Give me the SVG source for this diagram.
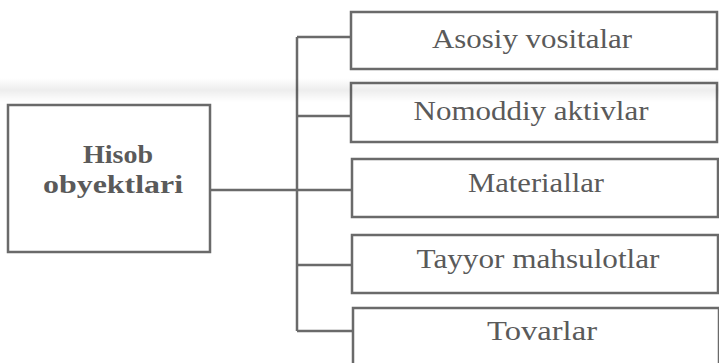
<svg xmlns="http://www.w3.org/2000/svg" width="719" height="363" viewBox="0 0 719 363">
  <defs>
    <linearGradient id="band" x1="0" y1="0" x2="0" y2="1">
      <stop offset="0" stop-color="#000" stop-opacity="0"/>
      <stop offset="0.5" stop-color="#000" stop-opacity="0.07"/>
      <stop offset="1" stop-color="#000" stop-opacity="0"/>
    </linearGradient>
  </defs>
  <style>
    .box { fill: #fff; stroke: #6a6a6a; stroke-width: 2.5; }
    .lbl { font-family: "Liberation Serif", "DejaVu Serif", serif; font-size: 27px; fill: #5a5a5a; text-anchor: middle; }
    .bold { font-weight: bold; font-size: 26px; }
    .conn { fill: none; stroke: #6a6a6a; stroke-width: 2.5; }
  </style>
  <rect width="719" height="363" fill="#fff"/>
  <g id="connectors">
    <line class="conn" x1="210" y1="190" x2="352" y2="190"/>
    <line class="conn" x1="297" y1="37" x2="297" y2="331"/>
    <line class="conn" x1="297" y1="37" x2="351" y2="37"/>
    <line class="conn" x1="297" y1="116" x2="351" y2="116"/>
    <line class="conn" x1="297" y1="265" x2="352" y2="265"/>
    <line class="conn" x1="297" y1="331" x2="353" y2="331"/>
  </g>
  <g id="node-hisob">
    <rect class="box" x="8" y="105" width="202" height="147"/>
    <text class="lbl bold" x="118" y="163" textLength="70" lengthAdjust="spacingAndGlyphs">Hisob</text>
    <text class="lbl bold" x="113" y="193" textLength="140" lengthAdjust="spacingAndGlyphs">obyektlari</text>
  </g>
  <g id="node-asosiy">
    <rect class="box" x="351" y="12" width="366" height="57"/>
    <text class="lbl" x="532" y="48" textLength="200" lengthAdjust="spacingAndGlyphs">Asosiy vositalar</text>
  </g>
  <g id="node-nomoddiy">
    <rect class="box" x="351" y="83" width="366" height="59"/>
    <text class="lbl" x="531" y="120" textLength="235" lengthAdjust="spacingAndGlyphs">Nomoddiy aktivlar</text>
  </g>
  <g id="node-materiallar">
    <rect class="box" x="352" y="159" width="366" height="58"/>
    <text class="lbl" x="536" y="192" textLength="136" lengthAdjust="spacingAndGlyphs">Materiallar</text>
  </g>
  <g id="node-tayyor">
    <rect class="box" x="352" y="235" width="366" height="58"/>
    <text class="lbl" x="538" y="268" textLength="243" lengthAdjust="spacingAndGlyphs">Tayyor mahsulotlar</text>
  </g>
  <g id="node-tovarlar">
    <rect class="box" x="353" y="308" width="366" height="70"/>
    <text class="lbl" x="542" y="340" textLength="110" lengthAdjust="spacingAndGlyphs">Tovarlar</text>
  </g>
  <rect x="0" y="78" width="719" height="24" fill="url(#band)"/>
</svg>
